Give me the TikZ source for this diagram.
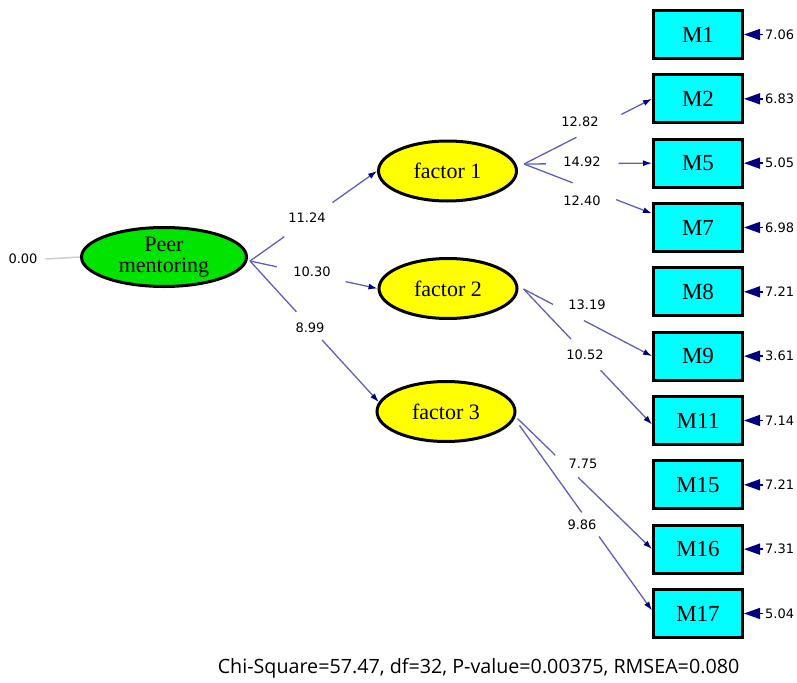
\documentclass[tikz,border=0pt]{standalone}
\usepackage{fontspec}
\setmainfont{Liberation Serif}
\newfontfamily\numfont{DejaVu Sans}
\newfontfamily\statfont{Open Sans}
\usetikzlibrary{shapes.geometric,arrows.meta,calc}
\definecolor{greenfill}{RGB}{0,228,0}
\definecolor{yellowfill}{RGB}{255,255,0}
\definecolor{cyanfill}{RGB}{0,255,255}
\definecolor{linec}{RGB}{95,95,185}
\definecolor{navyc}{RGB}{0,0,128}
\definecolor{grayline}{RGB}{205,205,205}
\newcommand\gapconn[4]{%
  \draw[conn] (#1) -- ($(#1)!#3!(#2)$);
  \draw[conn,-{Latex[length=9pt,width=6pt,color=navyc]}] ($(#1)!#4!(#2)$) -- (#2);}
\begin{document}
\begin{tikzpicture}[x=1pt,y=-1pt,
  latent/.style={ellipse,draw=black,line width=3pt,inner sep=0pt,
    font=\fontsize{22}{20}\selectfont,align=center},
  peerstyle/.style={latent,fill=greenfill,minimum width=165pt,minimum height=59pt},
  factorstyle/.style={latent,fill=yellowfill,minimum width=138pt,minimum height=60pt},
  obsbox/.style={rectangle,draw=black,line width=3pt,fill=cyanfill,
    minimum width=89pt,minimum height=48pt,inner sep=0pt,
    font=\fontsize{23}{23}\selectfont},
  conn/.style={draw=linec,line width=1.3pt},
  errarr/.style={draw=navyc,line width=1.5pt,-{Triangle[length=16pt,width=11pt,color=navyc]}},
  numlab/.style={font=\numfont\fontsize{13}{13}\selectfont,inner sep=2pt,text=black},
  grayconn/.style={draw=grayline,line width=1.5pt}
]
\useasboundingbox (0,0) rectangle (797,682);

% latent variables
\node[peerstyle] (peer) at (164,257) {Peer\\[1pt]mentoring};
\node[factorstyle] (f1) at (447.5,171) {factor 1};
\node[factorstyle] (f2) at (448,288.5) {factor 2};
\node[factorstyle] (f3) at (446,411.5) {factor 3};

% observed variables with error arrows
\foreach \n/\k/\v in {M1/0/7.06, M2/1/6.83, M5/2/5.05, M7/3/6.98, M8/4/7.21,
                      M9/5/3.61, M11/6/7.14, M15/7/7.21, M16/8/7.31, M17/9/5.04}{
  \pgfmathsetmacro\yy{34.5+64.33*\k}
  \node[obsbox] (\n) at (698,\yy) {\n};
  \coordinate (e\n) at (763,\yy);
  \draw[errarr] (e\n) -- (\n.east);
  \node[numlab,anchor=west] (v\n) at (763,\yy) {\v};
}

% variance of Peer mentoring
\node[numlab] (zero) at (23,259) {0.00};
\draw[grayconn] ($(zero.east)+(6,0)$) -- (peer.west);

% connector end points
\coordinate (pout) at ($(peer.east)+(2,4)$);
\coordinate (f1o) at ($(f1.east)+(6,-7)$);
\coordinate (f2o) at ($(f2.east)+(5,0.5)$);
\coordinate (f3a) at ($(f3.east)+(1,7)$);
\coordinate (f3b) at ($(f3.east)+(3,14)$);
\coordinate (t7) at ($(M7.west)+(0,-14)$);
\coordinate (t11) at ($(M11.west)+(0,4)$);
\coordinate (t17) at ($(M17.west)+(0,-3)$);

% structural paths
\gapconn{pout}{f1.west}{0.27}{0.65}
\gapconn{pout}{f2.west}{0.21}{0.75}
\gapconn{pout}{f3.172}{0.36}{0.56}
\node[numlab] (l11) at (307,218) {11.24};
\node[numlab] (l12) at (312,272) {10.30};
\node[numlab] (l13) at (310,328) {8.99};

% factor 1 loadings
\gapconn{f1o}{M2.west}{0.41}{0.76}
\gapconn{f1o}{M5.west}{0.17}{0.74}
\gapconn{f1o}{t7}{0.38}{0.72}
\node[numlab] (l2) at (580,122) {12.82};
\node[numlab] (l5) at (582,162) {14.92};
\node[numlab] (l7) at (582,201) {12.40};

% factor 2 loadings
\gapconn{f2o}{M9.west}{0.23}{0.47}
\gapconn{f2o}{t11}{0.37}{0.60}
\node[numlab] (l9) at (587,305) {13.19};
\node[numlab] (l11b) at (585,355) {10.52};

% factor 3 loadings
\gapconn{f3a}{M16.west}{0.28}{0.45}
\gapconn{f3b}{t17}{0.47}{0.60}
\node[numlab] (l16) at (583,464) {7.75};
\node[numlab] (l17) at (582,525) {9.86};

% fit statistics
\node[font=\statfont\fontsize{19.7}{19.7}\selectfont] (stat) at (478.5,668)
  {Chi-Square=57.47, df=32, P-value=0.00375, RMSEA=0.080};
\end{tikzpicture}
\end{document}
